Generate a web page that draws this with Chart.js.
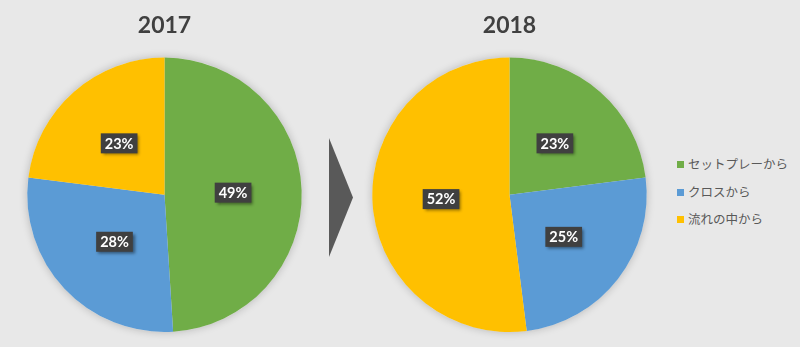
<!DOCTYPE html>
<html>
<head>
<meta charset="utf-8">
<script src="https://cdn.jsdelivr.net/npm/chart.js@4.4.0/dist/chart.umd.min.js"></script>
<style>
  html, body { margin: 0; padding: 0; }
  body { width: 800px; height: 347px; background: #e8e8e8; position: relative; overflow: hidden; }
  .pie { position: absolute; top: 0; width: 330px; height: 347px; }
  #arrow {
    position: absolute; left: 329px; top: 138px; width: 24px; height: 119px;
    background: #595959; clip-path: polygon(0 0, 100% 50%, 0 100%);
  }
  #legend { position: absolute; left: 677px; top: 154px; font-family: "Noto Sans CJK JP", sans-serif; font-size: 12.5px; color: #595959; }
  #legend div { height: 27.5px; line-height: 20px; white-space: nowrap; }
  #legend span { display: inline-block; width: 7px; height: 7px; margin-right: 4px; vertical-align: 1px; }
</style>
</head>
<body>
<div class="pie" style="left:0"><canvas id="pie2017"></canvas></div>
<div id="arrow"></div>
<div class="pie" style="left:345px"><canvas id="pie2018"></canvas></div>
<div id="legend"></div>

<script>
const categories = ['セットプレーから', 'クロスから', '流れの中から'];
const years = ['2017', '2018'];
const share2017 = [49, 28, 23];
const share2018 = [23, 25, 52];
const sliceColors = ['#70ad47', '#5b9bd5', '#ffc000'];

// soft shadow behind the whole pie
const pieShadow = {
  id: 'pieShadow',
  beforeDatasetsDraw(chart) {
    const arc = chart.getDatasetMeta(0).data[0];
    if (!arc) return;
    const ctx = chart.ctx;
    ctx.save();
    ctx.shadowColor = 'rgba(0,0,0,0.22)';
    ctx.shadowBlur = 9;
    ctx.fillStyle = '#e8e8e8';
    ctx.beginPath();
    ctx.arc(arc.x, arc.y, arc.outerRadius, 0, Math.PI * 2);
    ctx.fill();
    ctx.restore();
  }
};

// percentage boxes in the middle of each slice
const sliceLabels = {
  id: 'sliceLabels',
  afterDatasetsDraw(chart) {
    const ctx = chart.ctx;
    const values = chart.data.datasets[0].data;
    ctx.save();
    ctx.font = 'bold 14.5px Lato, sans-serif';
    ctx.textAlign = 'center';
    ctx.textBaseline = 'middle';
    chart.getDatasetMeta(0).data.forEach((arc, i) => {
      const p = arc.tooltipPosition();
      const txt = values[i] + '%';
      const w = ctx.measureText(txt).width + 8;
      const h = 20;
      ctx.shadowColor = 'rgba(0,0,0,0.45)';
      ctx.shadowBlur = 3;
      ctx.shadowOffsetX = 2;
      ctx.shadowOffsetY = 2;
      ctx.fillStyle = '#404040';
      ctx.fillRect(p.x - w / 2, p.y - h / 2, w, h);
      ctx.shadowColor = 'transparent';
      ctx.fillStyle = '#ffffff';
      ctx.fillText(txt, p.x, p.y + 0.5);
    });
    ctx.restore();
  }
};

function makePie(id, year, values) {
  return new Chart(document.getElementById(id), {
    type: 'pie',
    data: {
      labels: categories,
      datasets: [{
        data: values,
        backgroundColor: sliceColors,
        borderWidth: 0
      }]
    },
    options: {
      responsive: true,
      maintainAspectRatio: false,
      animation: false,
      layout: { padding: { top: 1, bottom: 15, left: 27, right: 28 } },
      plugins: {
        legend: { display: false },
        tooltip: { enabled: false },
        title: {
          display: true,
          text: year,
          color: '#404040',
          font: { family: 'Lato', size: 23, weight: 'bold' },
          padding: { top: 11, bottom: 18 }
        }
      }
    },
    plugins: [pieShadow, sliceLabels]
  });
}

makePie('pie2017', years[0], share2017);
makePie('pie2018', years[1], share2018);

var legend = document.getElementById('legend');
categories.forEach((name, i) => {
  var row = document.createElement('div');
  var box = document.createElement('span');
  box.style.background = sliceColors[i];
  row.appendChild(box);
  row.appendChild(document.createTextNode(name));
  legend.appendChild(row);
});
</script>
</body>
</html>
